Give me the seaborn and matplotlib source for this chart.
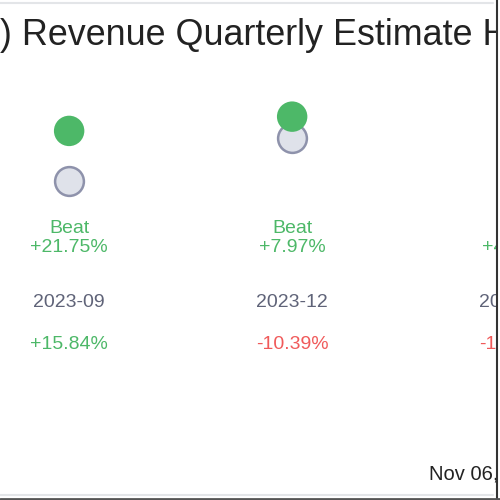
import matplotlib
matplotlib.use("Agg")
import matplotlib.pyplot as plt
from matplotlib.lines import Line2D
from matplotlib.patches import Rectangle
import pandas as pd
import seaborn as sns

# --- Data ---
quarters = ["2023-09", "2023-12", "2024-03"]
estimate = [52.4, 62.1, 70.0]
actual = [63.8, 67.05, 73.2]
result = ["Beat", "Beat", "Beat"]
surprise = ["+21.75%", "+7.97%", "+4.57%"]
growth = ["+15.84%", "-10.39%", "-12.06%"]

GREEN = "#4db868"
RED = "#f05a5a"
GREY_TXT = "#5f6378"

df = pd.DataFrame({"pos": range(len(quarters)), "estimate": estimate, "actual": actual})

sns.set_theme(style="white")
plt.rcParams["font.family"] = ["Liberation Sans", "DejaVu Sans"]

fig = plt.figure(figsize=(5, 5), dpi=100)

# dots live in a band near the top
ax = fig.add_axes([0, 0.56, 1, 0.28])
ax.set_axis_off()
sns.scatterplot(data=df, x="pos", y="estimate", ax=ax, s=430, color="#dfe2ea",
                edgecolor="#8e92ab", linewidth=1.8, clip_on=False, zorder=2)
sns.scatterplot(data=df, x="pos", y="actual", ax=ax, s=480, color=GREEN,
                edgecolor="none", clip_on=False, zorder=3)
ax.set_xlim(-0.31, 1.932)
ax.set_ylim(43.5, 75.4)

# labels below, x in data units, y in figure fraction
tr = matplotlib.transforms.blended_transform_factory(ax.transData, fig.transFigure)
fs = 14
for i, q in enumerate(quarters):
    ax.text(i, 1 - 228.5 / 500, result[i], transform=tr, ha="center", va="center",
            fontsize=fs, color=GREEN, clip_on=False)
    ax.text(i, 1 - 247.5 / 500, surprise[i], transform=tr, ha="center", va="center",
            fontsize=fs, color=GREEN, clip_on=False)
    ax.text(i, 1 - 302.5 / 500, q, transform=tr, ha="center", va="center",
            fontsize=fs, color=GREY_TXT, clip_on=False)
    gcol = GREEN if growth[i].startswith("+") else RED
    ax.text(i, 1 - 344.5 / 500, growth[i], transform=tr, ha="center", va="center",
            fontsize=fs, color=gcol, clip_on=False)

fig.text(0 / 500, 1 - 35 / 500, ") Revenue Quarterly Estimate History", ha="left", va="center",
         fontsize=25.8, color="#222222")
fig.text(429 / 500, 1 - 474 / 500, "Nov 06, 2024", ha="left", va="center",
         fontsize=14.5, color="#222222")

# frame of the source image: white strip past the right border
fig.add_artist(Rectangle((497 / 500, 0), 3 / 500, 1, transform=fig.transFigure,
                         facecolor="white", edgecolor="none", zorder=10))
fig.add_artist(Line2D([0, 0.985], [1 - 3 / 500] * 2, color="#e3e5e8", lw=1.5, zorder=11))
fig.add_artist(Line2D([0, 0.985], [1 - 495 / 500] * 2, color="#e3e5e8", lw=1.5, zorder=11))
fig.add_artist(Line2D([497 / 500] * 2, [0, 1], color="#333333", lw=1.5, zorder=11))
fig.add_artist(Line2D([0, 1], [1 - 498.5 / 500] * 2, color="#555555", lw=2, zorder=11))

fig.savefig("out.png", dpi=100)
